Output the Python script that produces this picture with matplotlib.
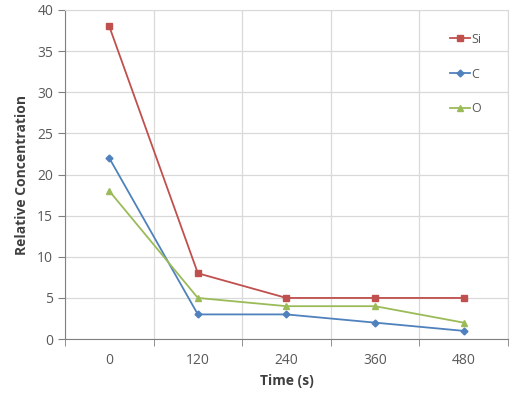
import numpy as np
import matplotlib
matplotlib.use("Agg")
import matplotlib.pyplot as plt

# data
times = ["0", "120", "240", "360", "480"]
si_vals = [38, 8, 5, 5, 5]
c_vals = [22, 3, 3, 2, 1]
o_vals = [18, 5, 4, 4, 2]

COLOR_SI = "#C0504D"
COLOR_C = "#4F81BD"
COLOR_O = "#9BBB59"
COLOR_TEXT = "#595959"
COLOR_GRID = "#D9D9D9"

plt.rcParams["font.family"] = ["Open Sans", "DejaVu Sans"]

fig = plt.figure(figsize=(5.22, 3.98), dpi=100)
ax = fig.add_axes([0.1245, 0.148, 0.8485, 0.827])

x = np.arange(len(times))
ax.plot(x, si_vals, color=COLOR_SI, marker="s", markersize=5, linewidth=1.3, label="Si")
ax.plot(x, c_vals, color=COLOR_C, marker="D", markersize=3.5, linewidth=1.3, label="C")
ax.plot(x, o_vals, color=COLOR_O, marker="^", markersize=5, linewidth=1.3, label="O")

ax.set_xlim(-0.5, len(times) - 0.5)
ax.set_ylim(0, 40)
ax.set_yticks(range(0, 41, 5))

# category axis: labels at centres, ticks/grid at boundaries
ax.set_xticks(x)
ax.set_xticklabels(times)
ax.set_xticks(np.arange(-0.5, len(times), 1.0), minor=True)
ax.tick_params(axis="x", which="major", length=0, pad=10, labelsize=10, colors=COLOR_TEXT)
ax.tick_params(axis="x", which="minor", length=5, direction="out", color="#808080")
ax.tick_params(axis="y", length=5, direction="out", color="#808080", labelsize=10, labelcolor=COLOR_TEXT)

ax.grid(True, axis="y", color=COLOR_GRID, linewidth=0.9)
ax.grid(True, axis="x", which="minor", color=COLOR_GRID, linewidth=0.9)
ax.set_axisbelow(True)

for side in ["top", "right"]:
    ax.spines[side].set_color(COLOR_GRID)
ax.spines["left"].set_color("#808080")
ax.spines["bottom"].set_color("#808080")

ax.set_xlabel("Time (s)", fontsize=10, fontweight="bold", color="#404040", labelpad=4)
ax.set_ylabel("Relative Concentration", fontsize=10, fontweight="bold", color="#404040", labelpad=6)

ax.legend(loc="upper right", bbox_to_anchor=(0.965, 0.965), frameon=False, fontsize=9,
          handlelength=1.6, handletextpad=0.1, labelspacing=1.75, labelcolor=COLOR_TEXT)

fig.savefig("out.png", dpi=100)
